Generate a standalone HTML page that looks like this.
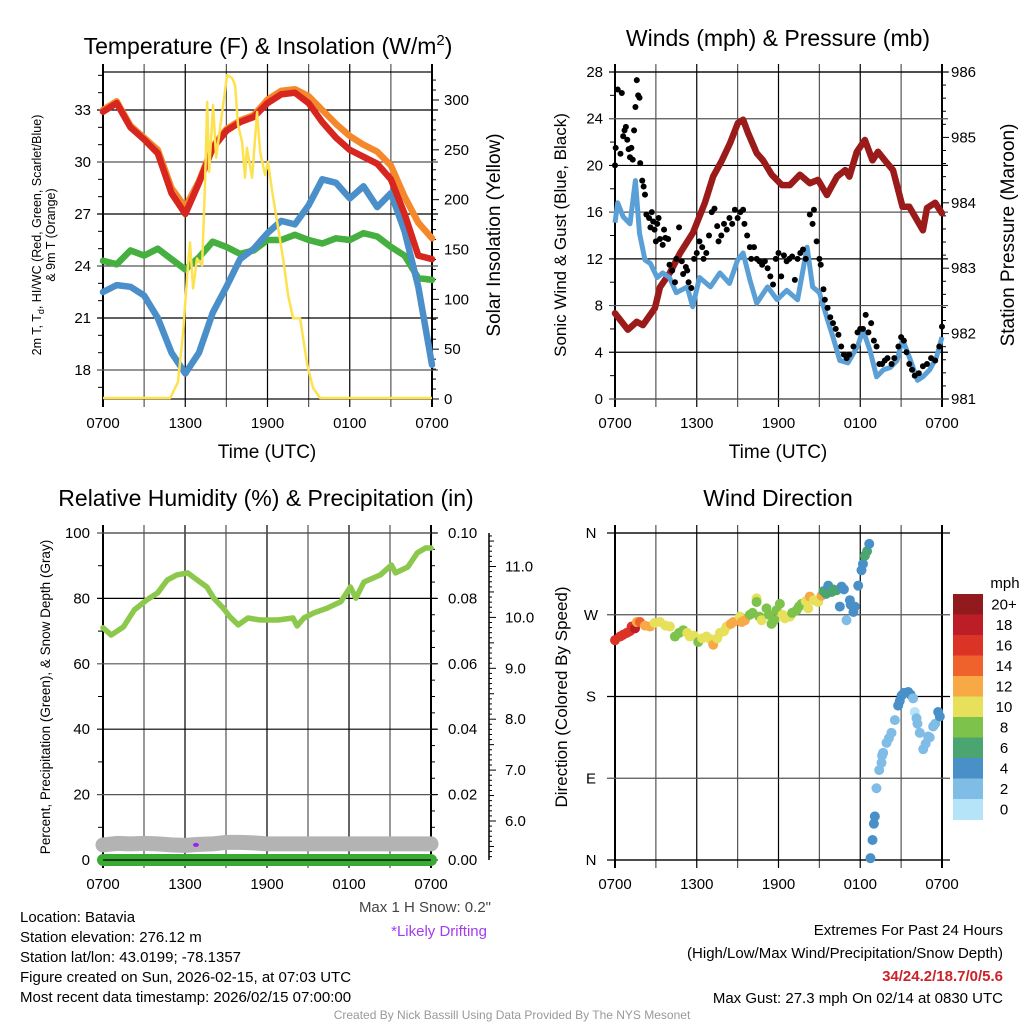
<!DOCTYPE html>
<html><head><meta charset="utf-8"><style>
body{margin:0;background:#fff}
svg{display:block;font-family:"Liberation Sans",sans-serif}
</style></head><body>
<svg id="fig" width="1024" height="1024" viewBox="0 0 1024 1024" xmlns="http://www.w3.org/2000/svg">
<rect x="0" y="0" width="1024" height="1024" fill="#fff"/>
<text x="268" y="54" font-size="23" text-anchor="middle">Temperature (F) &amp; Insolation (W/m<tspan font-size="15" dy="-9">2</tspan><tspan dy="9">)</tspan></text>
<text x="778" y="46" font-size="23" text-anchor="middle">Winds (mph) &amp; Pressure (mb)</text>
<text x="266" y="506" font-size="23" text-anchor="middle">Relative Humidity (%) &amp; Precipitation (in)</text>
<text x="778" y="506" font-size="23" text-anchor="middle">Wind Direction</text>
<text x="267" y="458" font-size="19" text-anchor="middle">Time (UTC)</text>
<text x="778" y="458" font-size="19" text-anchor="middle">Time (UTC)</text>
<text transform="translate(41,235) rotate(-90)" font-size="12.5" text-anchor="middle">2m T, T<tspan font-size="9" dy="3">d</tspan><tspan dy="-3">, HI/WC (Red, Green, Scarlet/Blue)</tspan></text>
<text transform="translate(55,235) rotate(-90)" font-size="12.5" text-anchor="middle">&amp; 9m T (Orange)</text>
<text transform="translate(500,235) rotate(-90)" font-size="19" text-anchor="middle">Solar Insolation (Yellow)</text>
<text transform="translate(566,235) rotate(-90)" font-size="17" text-anchor="middle">Sonic Wind &amp; Gust (Blue, Black)</text>
<text transform="translate(1014,235) rotate(-90)" font-size="19" text-anchor="middle">Station Pressure (Maroon)</text>
<text transform="translate(50,697) rotate(-90)" font-size="13.5" text-anchor="middle">Percent, Precipitation (Green), &amp; Snow Depth (Gray)</text>
<text transform="translate(567,697) rotate(-90)" font-size="17" text-anchor="middle">Direction (Colored By Speed)</text>
<text x="1005" y="588" font-size="15" text-anchor="middle">mph</text>
<text x="491" y="912" font-size="15" fill="#444" text-anchor="end">Max 1 H Snow: 0.2"</text>
<text x="487" y="936" font-size="15" fill="#a23cf0" text-anchor="end">*Likely Drifting</text>
<g font-size="15">
<text x="20" y="922">Location: Batavia</text>
<text x="20" y="942">Station elevation: 276.12 m</text>
<text x="20" y="962">Station lat/lon: 43.0199; -78.1357</text>
<text x="20" y="982">Figure created on Sun, 2026-02-15, at 07:03 UTC</text>
<text x="20" y="1002">Most recent data timestamp: 2026/02/15 07:00:00</text>
</g>
<g font-size="15" text-anchor="end">
<text x="1003" y="935">Extremes For Past 24 Hours</text>
<text x="1003" y="958">(High/Low/Max Wind/Precipitation/Snow Depth)</text>
<text x="1003" y="981" font-weight="bold" fill="#cc2229">34/24.2/18.7/0/5.6</text>
<text x="1003" y="1003">Max Gust: 27.3 mph On 02/14 at 0830 UTC</text>
</g>
<text x="512" y="1019" font-size="12" fill="#999" text-anchor="middle">Created By Nick Bassill Using Data Provided By The NYS Mesonet</text>
</svg>
<script>
// ---- data ----
const hours = [0,1,2,3,4,5,6,7,8,9,10,11,12,13,14,15,16,17,18,19,20,21,22,23,24];
const tempRed = [32.9,33.4,32.0,31.3,30.5,28.2,27.0,28.8,30.8,31.8,32.3,32.6,33.4,33.9,34.0,33.4,32.3,31.4,30.7,30.3,29.9,29.0,27.0,24.6,24.4];
const temp9m = [33.0,33.5,32.1,31.4,30.7,28.5,27.4,28.9,30.9,31.9,32.4,32.7,33.6,34.1,34.2,33.8,33.0,32.2,31.5,31.0,30.6,29.8,28.0,26.5,25.6];
const dewGreen = [24.3,24.1,24.9,24.6,25.0,24.4,23.8,24.5,25.4,25.1,24.7,24.9,25.5,25.5,25.8,25.5,25.3,25.6,25.5,25.9,25.7,25.1,24.6,23.3,23.2];
const chillBlue = [22.5,22.9,22.8,22.3,21.0,19.0,17.8,19.0,21.3,22.8,24.4,25.0,25.9,26.6,26.4,27.5,29.0,28.8,27.9,28.6,27.4,28.2,26.0,22.8,18.3];
const solarT = [0,4.5,4.9,5.47,5.84,6.2,6.35,6.57,6.86,7.23,7.45,7.6,7.74,8.03,8.25,8.54,9.05,9.42,9.64,9.85,10.15,10.36,10.5,10.88,11.24,11.46,11.82,12.04,12.34,12.7,13.14,13.5,13.87,14.38,14.9,15.33,15.84,16.5,24];
const solarW = [1,1,1,17,67,134,157,111,141,134,218,298,228,295,242,272,325,322,315,275,258,222,252,222,288,248,225,238,208,178,141,104,81,81,34,11,1,1,1];
const presT = [0,0.95,1.6,2.05,2.93,3.3,4.03,4.77,5.72,6.6,7.2,7.85,8.44,9.02,9.4,9.76,10.4,10.86,11.5,12.25,12.84,13.57,14.3,14.9,15.55,16.3,16.9,17.2,17.75,18.34,18.9,19.3,19.8,20.4,21.1,21.6,22.15,22.6,22.9,23.5,24];
const presMb = [982.31,982.06,982.18,982.13,982.39,982.71,982.93,983.23,983.54,984.0,984.4,984.65,984.91,985.22,985.27,985.07,984.76,984.65,984.43,984.27,984.27,984.43,984.3,984.35,984.12,984.4,984.5,984.4,984.78,984.96,984.65,984.78,984.65,984.5,983.94,983.94,983.74,983.58,983.92,984.0,983.84];
const windT = [0,0.2,0.6,1.1,1.5,1.8,2.2,2.6,3.1,3.5,4,4.5,5.3,5.7,6.2,7,7.7,8.4,9,9.4,9.9,10.4,11.2,11.9,12.6,13.4,14.1,14.5,15,15.6,16,16.5,17.1,17.8,18.2,18.7,19.2,19.7,20.2,20.7,21.1,21.6,22.2,22.6,23.1,23.6,24];
const windMph = [15.1,16.8,15.6,15,18.7,14.2,11.9,11.6,10.4,10.8,10.4,9.1,9.6,7.9,10.4,9.6,10.8,9.9,11.9,12.5,10.2,8.2,9.6,8.5,9.3,8.5,13,9.6,9.1,6.8,5.3,3.3,3.1,4.5,5.9,4.2,1.9,2.5,2.7,3.3,5.1,3.6,1.6,1.9,2.5,3.6,5.3];
const gustT = [0,0.05,0.2,0.4,0.5,0.6,0.7,0.8,0.9,1.0,1.1,1.2,1.3,1.4,1.5,1.6,1.7,1.8,1.85,2.0,2.1,2.2,2.3,2.5,2.6,2.7,2.8,2.9,3.0,3.1,3.2,3.3,3.5,3.6,3.7,3.9,4.0,4.2,4.4,4.5,4.7,4.9,5.0,5.2,5.3,5.4,5.6,5.8,6.0,6.2,6.4,6.5,6.7,6.9,7.1,7.3,7.5,7.6,7.8,8.0,8.2,8.4,8.6,8.8,9.0,9.2,9.4,9.5,9.7,9.9,10.0,10.2,10.4,10.6,10.8,11.0,11.2,11.4,11.6,11.8,12.0,12.2,12.4,12.6,12.8,13.0,13.2,13.4,13.6,13.8,14.0,14.3,14.5,14.6,14.8,15.0,15.1,15.3,15.4,15.6,15.8,16.0,16.2,16.4,16.6,16.8,17.0,17.2,17.5,17.8,18.0,18.2,18.4,18.6,18.8,19.0,19.2,19.4,19.6,19.8,20.0,20.3,20.5,20.8,21.0,21.2,21.4,21.6,21.8,22.0,22.3,22.6,22.9,23.2,23.5,23.8,24.0];
const gustMph = [20,21.5,26.5,21.0,26.2,22.5,23.0,23.3,22.2,21.4,20.7,21.5,20.5,23,25,27.3,26,25.8,20.2,18.7,18.2,17.5,15.8,15.5,14.7,16,15.2,14.5,13.5,15.0,15.5,13.7,13.2,14.5,13.8,13.7,11.5,11.0,10.0,12.0,14.7,11.8,10.7,11.3,11.0,10.0,9.5,12.0,12.5,13.5,13.0,12.0,12.5,14.0,16.0,16.3,14.8,13.5,14.0,15.0,14.5,15.5,15.0,16.2,15.5,16.0,16.2,15.0,14.0,13.0,12.0,13.0,12.0,11.8,11.5,11.8,11.2,10.5,9.8,12.0,12.5,10.5,12.3,11.8,12.0,12.2,10.2,12.0,12.5,12.8,12.0,15.8,15.0,16.2,13.5,12.0,11.5,9.4,8.5,7.8,7.0,6.5,6.0,5.5,4.5,3.8,3.5,3.8,4.5,5.7,6.0,6.0,7.2,5.7,6.5,5.0,4.5,3.0,3.0,3.3,3.5,3.0,3.5,4.5,5.3,5.0,4.0,3.0,2.5,2.0,2.2,2.8,3.0,3.5,3.3,4.5,6.2];
const rhT = [0,0.6,1.5,2.3,3.2,4,4.7,5.4,6.2,6.9,7.6,8.1,8.8,9.3,9.9,10.6,11.5,12.8,13.9,14.2,14.7,15.4,16.4,17.4,18.1,18.5,19.1,20.3,21.1,21.4,22.3,23,23.6,24];
const rhPct = [71,68.8,71.3,76.5,79.5,81.7,85.6,87.2,87.8,85.6,83.5,80.1,77,74.3,71.9,74,73.4,73.4,74,71.6,74,75.5,77,79,83.5,80.1,85,87.2,90.2,87.8,89.6,93.9,95.4,95.4];
const snowIn = [5.53,5.56,5.55,5.56,5.55,5.53,5.52,5.54,5.55,5.58,5.58,5.57,5.55,5.55,5.55,5.55,5.55,5.55,5.55,5.55,5.55,5.55,5.55,5.55,5.55];
const precipIn = [0,0,0,0,0,0,0,0,0,0,0,0,0,0,0,0,0,0,0,0,0,0,0,0,0];
const driftT = [6.8];
const driftIn = [5.53];
const dirT = [0,0.37,0.6,0.86,1.1,1.22,1.47,1.6,1.83,2.2,2.57,2.9,3.3,3.7,4.03,4.4,4.7,5.01,5.3,5.5,5.8,6.11,6.4,6.72,7.0,7.21,7.5,7.7,8.0,8.19,8.5,8.68,9.17,9.3,9.54,9.9,10.1,10.39,10.39,10.6,10.76,11.12,11.3,11.49,11.7,11.86,12.1,12.3,12.47,12.84,13.0,13.33,13.5,13.69,14.0,14.18,14.3,14.6,14.91,15.16,15.3,15.5,15.65,15.89,16.0,16.26,16.5,16.63,16.8,16.99,17.24,17.3,17.5,17.6,17.85,18.09,18.2,18.34,18.5,18.66,18.75,18.9,19.0,19.07,19.19,19.39,19.56,19.6,19.68,19.93,20.1,20.29,20.54,20.78,20.9,21.03,21.2,21.52,21.7,21.88,22.0,22.13,22.2,22.37,22.62,22.8,22.98,23.1,23.35,23.5,23.72,23.84];
const dirDeg = [242,246,248,250,252,257,255,262,262,258,257,261,262,258,257,246,250,253,250,246,247,240,244,246,243,237,244,250,252,257,260,262,268,262,264,270,272,288,284,268,264,277,270,260,264,275,282,270,266,268,272,275,279,282,285,277,290,286,284,291,296,293,302,295,298,297,279,301,298,264,286,281,273,279,302,319,326,335,340,348,2,22,40,48,79,99,107,115,118,129,134,140,154,170,175,181,184,185,182,178,163,156,150,140,122,128,136,135,147,150,163,158];
const dirSpd = [16.5,17,17,16.5,16.5,17,19,12.5,14,12.5,12.5,10.5,10.5,10.5,10.5,8.5,8.5,8.5,10.5,10.5,10.5,8.5,10.5,10.5,10.5,12.5,10.5,10.5,10.5,10.5,12.5,12.5,10.5,12.5,12.5,8.5,8.5,10.5,8.5,8.5,10.5,8.5,8.5,8.5,8.5,8.5,8.5,10.5,10.5,10.5,8.5,8.5,8.5,8.5,10.5,10.5,12.5,10.5,10.5,12.5,6.5,6.5,4.5,6.5,6.5,6.5,4.5,4.5,4.5,2.5,4.5,4.5,4.5,4.5,4.5,4.5,4.5,6.5,6.5,4.5,4.5,4.5,4.5,4.5,2.5,2.5,2.5,2.5,2.5,2.5,2.5,2.5,2.5,4.5,4.5,4.5,4.5,4.5,4.5,2.5,1,2.5,2.5,2.5,2.5,2.5,2.5,2.5,2.5,2.5,4.5,4.5];
const speedLabels = ['0','2','4','6','8','10','12','14','16','18','20+'];
const speedColors = ['#b5e3f8','#80bde6','#4a90c8','#4aa570','#7dc24a','#e6e05a','#f6a945','#f0622c','#dc3327','#bd1d27','#931a1c'];
const timeLabels = ['0700','1300','1900','0100','0700'];

// ---- helpers ----
const NS = 'http://www.w3.org/2000/svg';
const svg = document.getElementById('fig');
function mk(tag, attrs, parent){
  const e = document.createElementNS(NS, tag);
  for (const k in attrs) e.setAttribute(k, attrs[k]);
  (parent || svg).appendChild(e);
  return e;
}
function group(name){
  const g = mk('g', {});
  
  
  return g;
}
function pathFrom(xs, ys, fx, fy){
  let d = '';
  for (let i = 0; i < Math.min(xs.length, ys.length); i++) d += (i ? 'L' : 'M') + fx(xs[i]).toFixed(1) + ',' + fy(ys[i]).toFixed(1);
  return d;
}

// panel geometry
const P = {
  tl:{x0:103,x1:432,y0:72,y1:399},
  tr:{x0:615,x1:942,y0:72,y1:399},
  bl:{x0:103,x1:431,y0:533,y1:860},
  br:{x0:615,x1:942,y0:533,y1:860}
};
function xScale(p){ return t => p.x0 + t*(p.x1-p.x0)/24; }
const x1 = xScale(P.tl), x2 = xScale(P.tr), x3 = xScale(P.bl), x4 = xScale(P.br);
const yTemp = f => 370 - (f-18)*(260/15);
const ySolar = w => 399 - w*(299/300);
const yWind = v => 399 - v*(327/28);
const yPres = mb => 399 - (mb-981)*(327/5);
const yRH = r => 860 - r*3.27;
const yPrecip = r => 860 - r*3270;
const ySnow = s => 821 - (s-6)*50.9;
const yDir = d => 860 - d*(327/360);

function frame(p, name, xf){
  const g = group(name + '-axes');
  // vertical grid every 3 hours
  for (let h = 0; h <= 24; h += 3){
    const x = xf(h);
    const ln = mk('line', {x1:x, x2:x, y1:p.y0-8, y2:p.y1+8, stroke:(h%6===0?'#000':'#555'), 'stroke-width':(h===0||h===24)?2:1.2}, g);
    
    
  }
  const bx = mk('rect', {x:p.x0, y:p.y0, width:p.x1-p.x0, height:p.y1-p.y0, fill:'none', stroke:'#000', 'stroke-width':1.2}, g);
  
  
  for (let i = 0; i < timeLabels.length; i++){
    const tx = mk('text', {x:xf(i*6), y:p.y1+29, 'font-size':15, 'text-anchor':'middle'}, g);
    tx.textContent = timeLabels[i];
    
    
  }
  return g;
}
function hgrid(g, p, y, name, color){
  const ln = mk('line', {x1:p.x0-6, x2:p.x1+6, y1:y, y2:y, stroke:color||'#000', 'stroke-width':1.2}, g);
  
  
}
function tick(g, x, y, len, name){
  const ln = mk('line', {x1:x, x2:x+len, y1:y, y2:y, stroke:'#000', 'stroke-width':1}, g);
  
  
}
function label(g, x, y, s, anchor, name){
  const t = mk('text', {x:x, y:y+5, 'font-size':15, 'text-anchor':anchor}, g);
  t.textContent = s;
  
  
}

// ---- Panel 1: temperature ----
(function(){
  const p = P.tl, g = frame(p, 'temperature', x1);
  for (let f = 17; f <= 35; f++){
    const y = yTemp(f);
    if (y < p.y0 || y > p.y1) continue;
    if (f % 3 === 0){ hgrid(g, p, y, 'temperature-hgrid', f%6===0?'#555':'#000'); label(g, p.x0-12, y, String(f), 'end', 'temperature-y-tick-label'); }
    else tick(g, p.x0-5, y, 5, 'temperature-minor-tick');
  }
  for (let w = 0; w <= 320; w += 10){
    const y = ySolar(w);
    if (y < p.y0) continue;
    tick(g, p.x1, y, w%50===0?7:4, 'solar-tick');
    if (w % 50 === 0) label(g, p.x1+12, y, String(w), 'start', 'solar-y-tick-label');
  }
  const series = [[dewGreen,'#45b03f','dewpoint-line'],[chillBlue,'#4a8fc9','wind-chill-line'],[temp9m,'#f6882c','temp-9m-line'],[tempRed,'#d7251f','temp-2m-line']];
  for (const s of series){
    const pa = mk('path', {d:pathFrom(hours, s[0], x1, yTemp), fill:'none', stroke:s[1], 'stroke-width':6.5, 'stroke-linejoin':'round', 'stroke-linecap':'round'});
    
    
  }
  const sol = mk('path', {d:pathFrom(solarT, solarW, x1, ySolar), fill:'none', stroke:'#fde24f', 'stroke-width':2.5, 'stroke-linejoin':'round'});
  
  
})();

// ---- Panel 2: winds & pressure ----
(function(){
  const p = P.tr, g = frame(p, 'winds', x2);
  for (let v = 0; v <= 28; v += 2){
    const y = yWind(v);
    if (v % 4 === 0){ hgrid(g, p, y, 'wind-hgrid', v%8===0?'#555':'#000'); label(g, p.x0-12, y, String(v), 'end', 'wind-y-tick-label'); }
    else tick(g, p.x0-5, y, 5, 'wind-minor-tick');
  }
  for (let m = 0; m <= 25; m++){
    const mb = 981 + m*0.2, y = yPres(mb);
    tick(g, p.x1, y, m%5===0?7:4, 'pressure-tick');
    if (m % 5 === 0) label(g, p.x1+9, y, String(981 + m/5), 'start', 'pressure-y-tick-label');
  }
  const pr = mk('path', {d:pathFrom(presT, presMb, x2, yPres), fill:'none', stroke:'#9b1b1b', 'stroke-width':6.5, 'stroke-linejoin':'round', 'stroke-linecap':'round'});
  
  
  const wn = mk('path', {d:pathFrom(windT, windMph, x2, yWind), fill:'none', stroke:'#5a9fd6', 'stroke-width':5, 'stroke-linejoin':'round'});
  
  
  const gg = group('gust-points');
  for (let i = 0; i < Math.min(gustT.length, gustMph.length); i++){
    const c = mk('circle', {cx:x2(gustT[i]), cy:yWind(gustMph[i]), r:3, fill:'#000'}, gg);
    
    
  }
})();

// ---- Panel 3: humidity ----
(function(){
  const p = P.bl, g = frame(p, 'humidity', x3);
  for (let r = 0; r <= 100; r += 10){
    const y = yRH(r);
    if (r % 20 === 0){ hgrid(g, p, y, 'humidity-hgrid', r%40===0?'#000':'#555'); label(g, p.x0-13, y, String(r), 'end', 'humidity-y-tick-label'); }
    else tick(g, p.x0-5, y, 5, 'humidity-minor-tick');
  }
  for (let i = 0; i <= 20; i++){
    const y = yPrecip(i*0.005);
    tick(g, p.x1, y, i%4===0?7:4, 'precip-tick');
    if (i % 4 === 0) label(g, p.x1+17, y, (i*0.005).toFixed(2), 'start', 'precip-y-tick-label');
  }
  const ax = mk('line', {x1:489, x2:489, y1:p.y0, y2:p.y1, stroke:'#000', 'stroke-width':1.5}, g);
  
  
  for (let k = 52; k <= 116; k++){
    const s = k/10, y = ySnow(s);
    if (y < p.y0 || y > p.y1) continue;
    tick(g, 489, y, k%10===0?7:(k%5===0?5:3), 'snow-tick');
    if (k % 10 === 0) label(g, 505, y, s.toFixed(1), 'start', 'snow-y-tick-label');
  }
  const sn = mk('path', {d:pathFrom(hours, snowIn, x3, ySnow), fill:'none', stroke:'#b3b3b3', 'stroke-width':15, 'stroke-linecap':'round', 'stroke-linejoin':'round'});
  
  
  const pc = mk('path', {d:pathFrom(hours, precipIn, x3, yPrecip), fill:'none', stroke:'#3aaa35', 'stroke-width':12, 'stroke-linecap':'round'});
  
  
  const bl = mk('line', {x1:p.x0, x2:p.x1, y1:p.y1, y2:p.y1, stroke:'#000', 'stroke-width':1.2});
  
  
  const rh = mk('path', {d:pathFrom(rhT, rhPct, x3, yRH), fill:'none', stroke:'#8cc84b', 'stroke-width':5.5, 'stroke-linejoin':'round', 'stroke-linecap':'round'});
  
  
  for (let i = 0; i < driftT.length; i++){
    const d = mk('ellipse', {cx:x3(driftT[i]), cy:ySnow(driftIn[i]), rx:3, ry:2, fill:'#a020f0'});
    
    
  }
})();

// ---- Panel 4: wind direction ----
(function(){
  const p = P.br, g = frame(p, 'direction', x4);
  const dirLabels = ['N','E','S','W','N'];
  for (let i = 0; i < 5; i++){
    const y = yDir(i*90);
    const ln = mk('line', {x1:p.x0-8, x2:p.x1+8, y1:y, y2:y, stroke:(i%2?'#555':'#000'), 'stroke-width':1.2}, g);
    
    
    label(g, 591, y, dirLabels[i], 'middle', 'direction-y-tick-label');
  }
  const dg = group('direction-points');
  for (let i = 0; i < Math.min(dirT.length, dirDeg.length, dirSpd.length); i++){
    const bin = Math.min(10, Math.floor(dirSpd[i]/2));
    const c = mk('circle', {cx:x4(dirT[i]), cy:yDir(dirDeg[i]), r:5, fill:speedColors[bin]}, dg);
    
    
  }
  const cb = group('speed-colorbar');
  const top = 594, h = 20.5;
  for (let i = 0; i < speedColors.length; i++){
    const idx = speedColors.length - 1 - i;
    const r = mk('rect', {x:953, y:top + i*h, width:30, height:h+0.5, fill:speedColors[idx]}, cb);
    
    
    const t = mk('text', {x:1004, y:top + i*h + h/2 + 5, 'font-size':15, 'text-anchor':'middle'}, cb);
    t.textContent = speedLabels[idx];
    
    
  }
})();
</script>
</body></html>
